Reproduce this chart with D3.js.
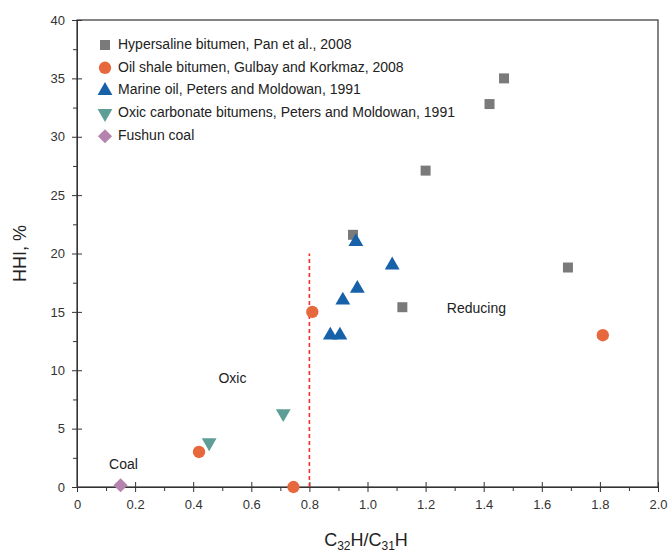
<!DOCTYPE html>
<html>
<head>
<meta charset="utf-8">
<script src="https://cdn.jsdelivr.net/npm/d3@7"></script>
<style>
  html, body { margin: 0; padding: 0; background: #fff; }
  svg { display: block; font-family: "Liberation Sans", Arial, sans-serif; }
</style>
</head>
<body>
<svg id="chart" width="668" height="552"></svg>
<script>
// Hypersaline bitumen, Pan et al., 2008
const hypersalineX = [0.95, 1.47, 1.42, 1.20, 1.69, 1.12];
const hypersalineY = [21.6, 35.0, 32.8, 27.1, 18.8, 15.4];
// Oil shale bitumen, Gulbay and Korkmaz, 2008
const oilShaleX = [0.81, 1.81, 0.42, 0.745];
const oilShaleY = [15.0, 13.0, 3.0, 0.0];
// Marine oil, Peters and Moldowan, 1991
const marineX = [0.96, 1.085, 0.965, 0.915, 0.872, 0.905];
const marineY = [21.0, 19.0, 17.0, 16.0, 13.0, 13.0];
// Oxic carbonate bitumens, Peters and Moldowan, 1991
const oxicX = [0.455, 0.71];
const oxicY = [3.8, 6.3];
// Fushun coal
const coalX = [0.15];
const coalY = [0.15];

const seriesNames = [
  "Hypersaline bitumen, Pan et al., 2008",
  "Oil shale bitumen, Gulbay and Korkmaz, 2008",
  "Marine oil, Peters and Moldowan, 1991",
  "Oxic carbonate bitumens, Peters and Moldowan, 1991",
  "Fushun coal"
];
const xTicks = [0, 0.2, 0.4, 0.6, 0.8, 1.0, 1.2, 1.4, 1.6, 1.8, 2.0];
const yTicks = [0, 5, 10, 15, 20, 25, 30, 35, 40];
const boundaryX = 0.8, boundaryTop = 20;
const zoneLabels = [
  { text: "Reducing", x: 1.375, y: 15.2 },
  { text: "Oxic", x: 0.535, y: 9.2 },
  { text: "Coal", x: 0.16, y: 1.9 }
];

const svg = d3.select("#chart");
const plotL = 77, plotR = 658, plotT = 20, plotB = 487;

const x = d3.scaleLinear().domain([0, 2]).range([plotL, plotR]);
const y = d3.scaleLinear().domain([0, 40]).range([plotB, plotT]);

const styles = [
  { sym: d3.symbolSquare, size: 100, color: "#7a7a7a", rot: 0 },
  { sym: d3.symbolCircle, size: 120, color: "#e8683d", rot: 0 },
  { sym: d3.symbolTriangle, size: 95, color: "#1761a9", rot: 0 },
  { sym: d3.symbolTriangle, size: 95, color: "#5f9e96", rot: 180 },
  { sym: d3.symbolSquare, size: 100, color: "#b683ae", rot: 45 }
];
const series = [
  [hypersalineX, hypersalineY],
  [oilShaleX, oilShaleY],
  [marineX, marineY],
  [oxicX, oxicY],
  [coalX, coalY]
];

// frame
svg.append("rect")
  .attr("x", plotL).attr("y", plotT)
  .attr("width", plotR - plotL).attr("height", plotB - plotT)
  .attr("fill", "none").attr("stroke", "#333").attr("stroke-width", 1.2);

// x axis with crossing major ticks and outward minor ticks
const xAxisG = svg.append("g").attr("transform", `translate(0,${plotB})`);
xAxisG.append("g")
  .call(d3.axisBottom(x).tickValues(d3.range(0.1, 2, 0.2)).tickSize(4).tickFormat(""))
  .call(g => g.select(".domain").remove());
xAxisG.append("g")
  .call(d3.axisBottom(x).tickValues(xTicks).tickSize(5).tickPadding(8)
    .tickFormat(d => d === 0 ? "0" : d3.format(".1f")(d)))
  .call(g => g.select(".domain").attr("stroke", "#333"))
  .call(g => g.selectAll(".tick line").attr("y1", -5));
xAxisG.selectAll("line").attr("stroke", "#333");
xAxisG.selectAll("text").attr("fill", "#333").attr("font-size", 13);

// y axis
const yAxisG = svg.append("g").attr("transform", `translate(${plotL},0)`);
yAxisG.append("g")
  .call(d3.axisLeft(y).tickValues(d3.range(2.5, 40, 5)).tickSize(4).tickFormat(""))
  .call(g => g.select(".domain").remove());
yAxisG.append("g")
  .call(d3.axisLeft(y).tickValues(yTicks).tickSize(5).tickPadding(7))
  .call(g => g.select(".domain").attr("stroke", "#333"))
  .call(g => g.selectAll(".tick line").attr("x1", 5));
yAxisG.selectAll("line").attr("stroke", "#333");
yAxisG.selectAll("text").attr("fill", "#333").attr("font-size", 13);

// boundary between oxic and reducing settings
svg.append("line")
  .attr("x1", x(boundaryX)).attr("x2", x(boundaryX))
  .attr("y1", y(0)).attr("y2", y(boundaryTop))
  .attr("stroke", "#ff2a2a").attr("stroke-width", 1.6)
  .attr("stroke-dasharray", "4,3");

// zone labels
svg.selectAll("text.zone").data(zoneLabels).join("text")
  .attr("class", "zone")
  .attr("x", d => x(d.x)).attr("y", d => y(d.y))
  .attr("text-anchor", "middle").attr("dominant-baseline", "middle")
  .attr("font-size", 14).attr("fill", "#222")
  .text(d => d.text);

// markers
series.forEach(([xs, ys], i) => {
  const st = styles[i];
  const gen = d3.symbol().type(st.sym).size(st.size);
  svg.append("g").selectAll("path").data(xs.map((v, j) => [v, ys[j]])).join("path")
    .attr("d", gen)
    .attr("transform", d => `translate(${x(d[0])},${y(d[1])}) rotate(${st.rot})`)
    .attr("fill", st.color);
});

// legend
const legend = svg.append("g");
seriesNames.forEach((name, i) => {
  const st = styles[i];
  const cy = 45 + i * 22.8;
  legend.append("path")
    .attr("d", d3.symbol().type(st.sym).size(st.size)())
    .attr("transform", `translate(105,${cy}) rotate(${st.rot})`)
    .attr("fill", st.color);
  legend.append("text")
    .attr("x", 118).attr("y", cy)
    .attr("dominant-baseline", "middle")
    .attr("font-size", 14).attr("fill", "#222")
    .text(name);
});

// axis titles
const xt = svg.append("text")
  .attr("x", 366).attr("y", 546)
  .attr("text-anchor", "middle")
  .attr("font-size", 18).attr("fill", "#222");
xt.append("tspan").text("C");
xt.append("tspan").attr("font-size", 12).attr("dy", 4).text("32");
xt.append("tspan").attr("dy", -4).text("H/C");
xt.append("tspan").attr("font-size", 12).attr("dy", 4).text("31");
xt.append("tspan").attr("dy", -4).text("H");

svg.append("text")
  .attr("transform", `translate(26,${(plotT + plotB) / 2}) rotate(-90)`)
  .attr("text-anchor", "middle")
  .attr("font-size", 18).attr("fill", "#222")
  .text("HHI, %");
</script>
</body>
</html>
